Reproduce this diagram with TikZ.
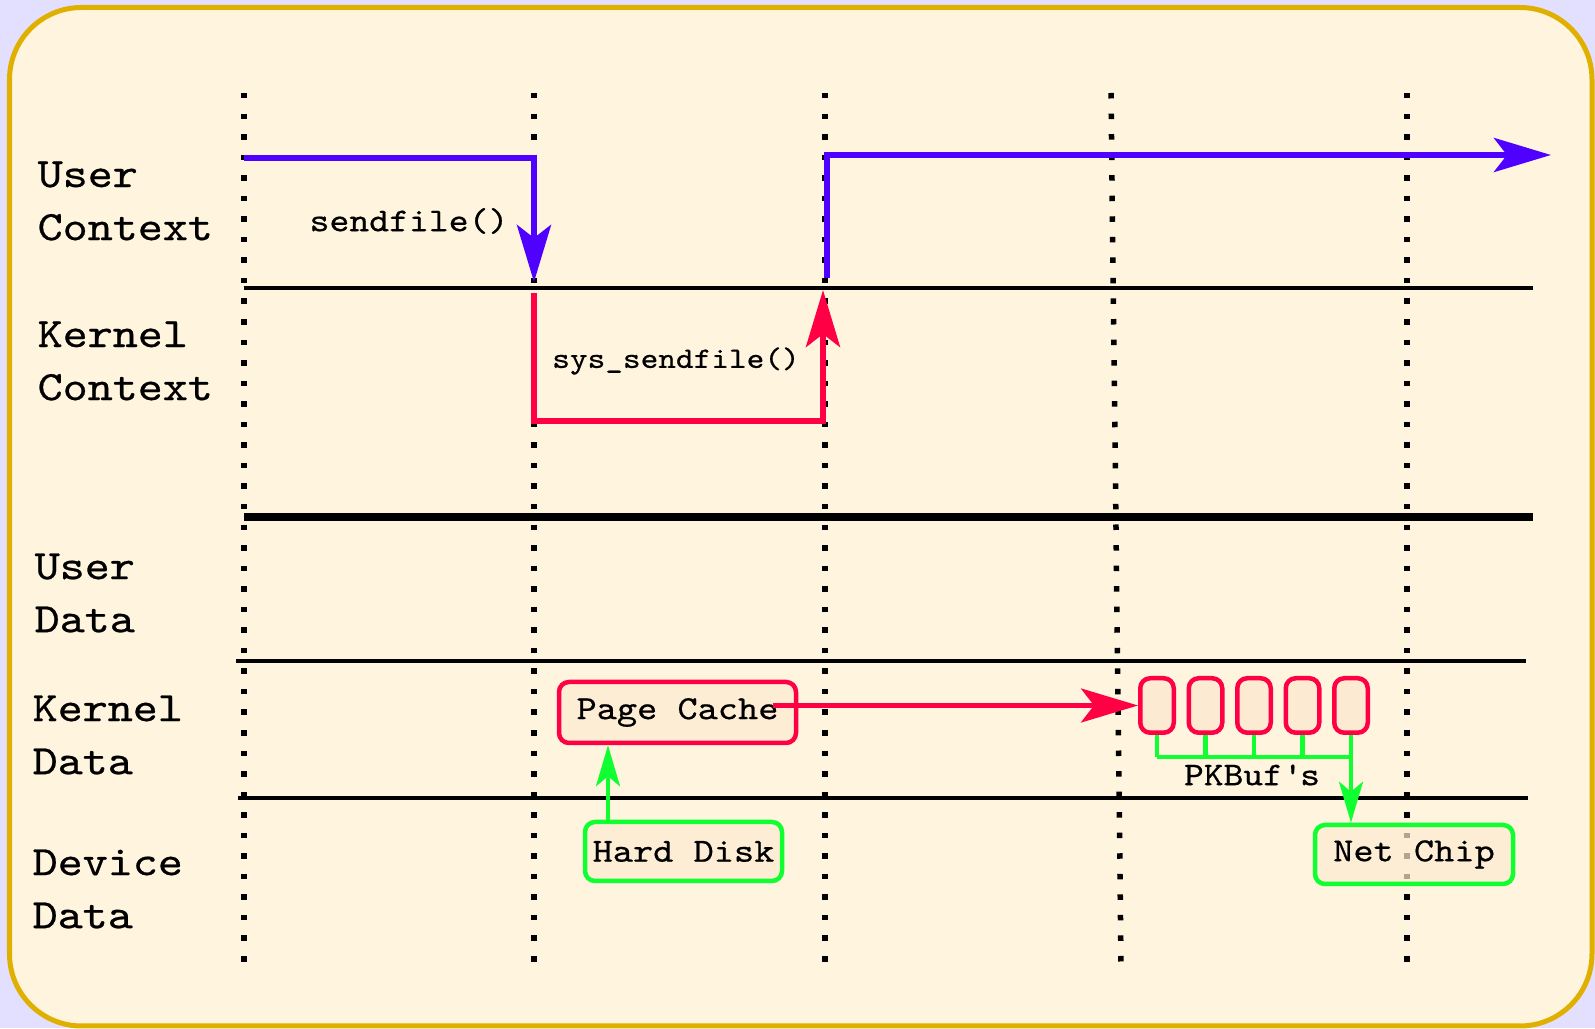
\documentclass[tikz,border=0pt]{standalone}
\usepackage{fontspec}
\setmainfont{lmmono10-regular.otf}[FakeStretch=1.14, FakeBold=0.6]
\usetikzlibrary{arrows.meta}

\definecolor{pagebg}{RGB}{226,224,254}
\definecolor{panel}{RGB}{255,245,222}
\definecolor{panelrim}{RGB}{224,176,0}
\definecolor{userblue}{RGB}{80,0,255}
\definecolor{kernred}{RGB}{255,0,68}
\definecolor{devgreen}{RGB}{16,255,48}
\definecolor{boxfill}{RGB}{253,234,210}

\begin{document}
\begin{tikzpicture}[
    tick/.style={line width=0.055cm, dash pattern=on 0.055cm off 0.1505cm},
    lane/.style={line width=0.042cm},
    flow/.style={line width=0.06cm, -{Stealth[length=5.7mm,width=3.4mm,inset=1.3mm]}},
    feed/.style={line width=0.042cm, draw=devgreen, -{Stealth[length=4.1mm,width=2.4mm,inset=1mm]}},
    side/.style={anchor=west, align=left, inner sep=0pt, font=\fontsize{11.9}{15.1}\selectfont},
    call/.style={font=\fontsize{#1}{11}\selectfont},
    store/.style={draw, line width=0.045cm, rounded corners=0.1cm, fill=boxfill,
      fill opacity=0.7, text opacity=1, font=\fontsize{9.6}{11}\selectfont, inner sep=0pt},
    buf/.style={draw=kernred, line width=0.045cm, rounded corners=0.1cm, fill=boxfill,
      minimum width=0.335cm, minimum height=0.545cm, inner sep=0pt}
  ]
  % tlo i ramka
  \fill[pagebg] (0,0) rectangle (15.95,-10.28);
  \draw[panelrim, fill=panel, line width=0.05cm, rounded corners=0.72cm]
    (0.095,-0.075) rectangle (15.92,-10.26);
  \useasboundingbox (0,0) rectangle (15.95,-10.28);

  % kropkowane linie czasu
  \foreach \xa/\xb in {2.44/2.44, 5.34/5.34, 8.25/8.25, 11.11/11.21, 14.07/14.07}
    \draw[tick] (\xa,-0.93) -- (\xb,-9.62);

  % granice warstw
  \draw[lane] (2.44,-2.88) -- (15.33,-2.88);
  \draw[line width=0.08cm] (2.44,-5.17) -- (15.33,-5.17);
  \draw[lane] (2.36,-6.61) -- (15.26,-6.61);
  \draw[lane] (2.38,-7.98) -- (15.28,-7.98);

  % opisy warstw
  \node[side] (uctx) at (0.37,-2.01) {User\\Context};
  \node[side] (kctx) at (0.37,-3.61) {Kernel\\Context};
  \node[side] (udata) at (0.34,-5.93) {User\\Data};
  \node[side] (kdata) at (0.32,-7.35) {Kernel\\Data};
  \node[side] (ddata) at (0.32,-8.89) {Device\\Data};

  % przebieg wywolania
  \coordinate (u0) at (2.44,-1.58);
  \coordinate (u1) at (5.34,-1.58);
  \coordinate (u2) at (5.34,-2.82);
  \coordinate (k0) at (5.34,-2.93);
  \coordinate (k1) at (5.34,-4.21);
  \coordinate (k2) at (8.23,-4.21);
  \coordinate (k3) at (8.23,-2.90);
  \coordinate (r0) at (8.27,-2.78);
  \coordinate (r1) at (8.27,-1.55);
  \coordinate (r2) at (15.51,-1.55);
  \draw[flow, userblue] (u0) -- (u1) -- (u2);
  \draw[flow, kernred] (k0) -- (k1) -- (k2) -- (k3);
  \draw[flow, userblue] (r0) -- (r1) -- (r2);
  \node[call=9.45] (sendf) at (4.09,-2.21) {sendfile()};
  \node[call=8.4] (syssendf) at (6.76,-3.61) {sys\_sendfile()};

  % bufory danych
  \node[store, draw=kernred, minimum width=2.37cm, minimum height=0.61cm] (cache) at (6.775,-7.125) {Page Cache};
  \node[store, draw=devgreen, minimum width=1.97cm, minimum height=0.59cm] (disk) at (6.835,-8.515) {Hard Disk};
  \node[store, draw=devgreen, minimum width=1.98cm, minimum height=0.59cm] (netchip) at (14.14,-8.545) {Net Chip};
  \foreach \i in {1,...,5}
    \node[buf] (buf\i) at ({11.57+0.485*(\i-1)},-7.055) {};
  \node[call=9.4] (pklabel) at (12.52,-7.75) {PKBuf\textquotesingle s};

  % przeplyw danych
  \draw[feed] ([xshift=-0.755cm]disk.north) -- ([xshift=-0.755cm]disk.north |- cache.south);
  \draw[flow, kernred, line width=0.045cm] ([xshift=-0.25cm]buf1.west -| cache.east) -- (buf1.west);
  \coordinate (comb) at (12.5,-7.57);
  \foreach \i in {1,...,4}
    \draw[devgreen, line width=0.042cm] (buf\i.south) -- (buf\i.south |- comb);
  \draw[devgreen, line width=0.042cm] (buf1.south |- comb) -- (buf5.south |- comb);
  \draw[feed] (buf5.south) -- (buf5.south |- netchip.north);
\end{tikzpicture}
\end{document}
